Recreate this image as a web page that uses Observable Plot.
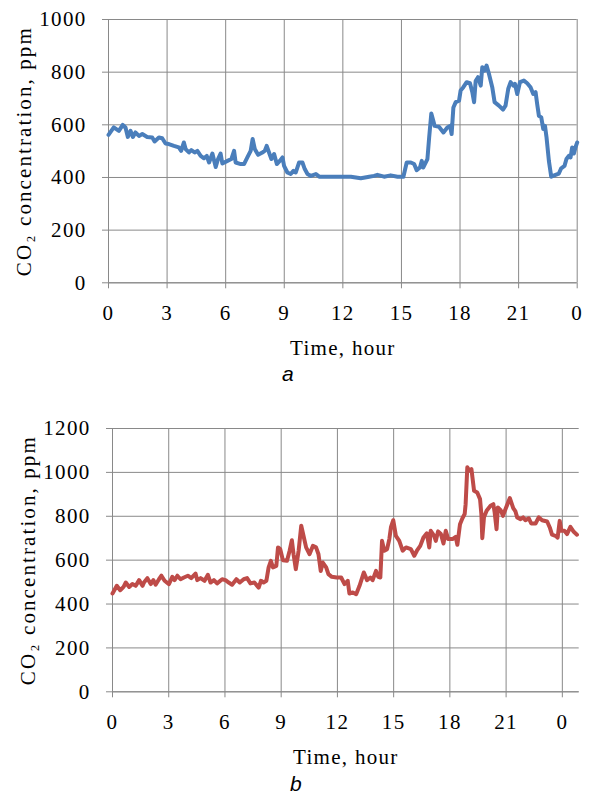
<!DOCTYPE html>
<html><head><meta charset="utf-8">
<script src="https://cdn.jsdelivr.net/npm/d3@7"></script>
<script src="https://cdn.jsdelivr.net/npm/@observablehq/plot@0.6"></script>
<style>
body{margin:0;background:#fff;}
#wrap{position:relative;width:590px;height:801px;overflow:hidden;background:#fff;}
.panel{position:absolute;left:0;}
.tag{position:absolute;font-family:"Liberation Sans",Arial,sans-serif;font-style:italic;font-size:21px;line-height:1;color:#000;}
</style></head><body>
<div id="wrap"></div>
<script>
// Panel a
const hoursA = [0,0.27,0.53,0.73,0.87,0.99,1.13,1.25,1.38,1.56,1.73,1.98,2.24,2.36,2.58,2.75,2.92,3.09,3.35,3.6,3.72,3.86,3.95,4.12,4.24,4.41,4.55,4.72,4.89,5.03,5.15,5.32,5.49,5.61,5.74,5.83,6.09,6.29,6.43,6.51,6.77,6.94,7.11,7.28,7.38,7.49,7.66,7.88,8.0,8.1,8.22,8.34,8.48,8.62,8.77,8.91,8.99,9.16,9.33,9.47,9.59,9.76,9.93,10.05,10.19,10.36,10.62,10.79,11.21,12.0,12.41,12.92,13.35,13.6,13.77,14.11,14.45,14.8,15.1,15.27,15.48,15.65,15.78,15.95,16.04,16.12,16.33,16.42,16.53,16.7,16.93,17.15,17.35,17.49,17.57,17.66,17.78,17.95,18.03,18.17,18.34,18.51,18.63,18.72,18.8,18.92,19.06,19.14,19.26,19.36,19.48,19.65,19.77,19.99,20.2,20.33,20.47,20.59,20.73,20.81,20.93,21.07,21.27,21.44,21.61,21.75,21.87,21.95,22.04,22.16,22.26,22.35,22.43,22.55,22.67,22.89,23.06,23.18,23.35,23.45,23.57,23.66,23.74,23.83,23.91,24.0];
const co2A = [562,590,577,600,590,554,577,554,571,558,565,554,552,537,552,549,529,527,520,514,501,533,508,495,504,495,501,482,473,482,457,491,440,470,491,453,463,470,501,457,451,451,476,501,546,508,486,495,501,520,495,470,489,451,463,476,444,419,413,425,419,457,457,432,413,406,413,403,403,403,403,397,403,406,410,403,408,403,403,457,457,451,428,438,463,438,470,552,643,596,592,571,590,596,565,666,686,692,730,743,762,758,724,686,766,781,749,819,806,825,794,743,686,673,658,673,737,762,749,756,717,762,768,758,743,717,724,679,634,628,584,596,552,463,403,410,415,435,444,470,482,476,514,491,514,533];

// Panel b
const hoursB = [0,0.23,0.41,0.59,0.71,0.89,1.06,1.24,1.42,1.6,1.68,1.86,2.04,2.18,2.30,2.48,2.61,2.78,3.01,3.19,3.31,3.46,3.63,3.81,4.02,4.2,4.43,4.52,4.7,4.91,5.09,5.23,5.41,5.58,5.85,6.03,6.2,6.38,6.61,6.79,7.0,7.18,7.36,7.57,7.8,7.92,8.06,8.21,8.33,8.45,8.56,8.74,8.83,8.95,9.09,9.31,9.45,9.57,9.66,9.78,9.93,10.07,10.19,10.33,10.51,10.69,10.86,10.99,11.11,11.22,11.4,11.52,11.7,11.96,12.2,12.38,12.55,12.64,12.82,13.0,13.18,13.41,13.58,13.76,13.88,14.06,14.18,14.29,14.38,14.5,14.65,14.77,14.86,14.98,15.12,15.3,15.48,15.66,15.92,16.1,16.24,16.42,16.59,16.77,16.9,16.98,17.16,17.25,17.37,17.52,17.66,17.78,17.91,18.14,18.31,18.4,18.54,18.67,18.79,18.84,18.93,19.04,19.15,19.29,19.46,19.61,19.68,19.73,19.82,19.96,20.17,20.32,20.39,20.49,20.56,20.71,20.83,20.97,21.2,21.38,21.5,21.59,21.77,21.91,22.03,22.21,22.34,22.57,22.74,22.92,23.19,23.33,23.45,23.63,23.75,23.86,23.95,24.11,24.25,24.43,24.61,24.78];
const co2B = [448,483,463,478,498,478,491,483,509,483,498,518,491,509,488,513,529,506,491,524,509,529,513,521,529,518,539,509,518,506,533,498,509,494,513,509,498,488,513,498,513,518,494,498,475,506,498,506,567,597,567,574,658,650,600,597,643,691,627,559,643,757,711,658,627,665,658,627,551,589,567,536,524,521,521,491,506,448,453,445,483,544,509,521,509,551,524,521,688,643,650,696,752,782,711,688,643,658,650,620,643,665,703,722,658,734,711,688,731,719,676,734,696,696,706,670,764,791,810,855,1023,1008,1015,916,908,878,810,700,795,825,848,855,817,741,840,828,802,833,883,837,822,795,787,795,782,791,767,767,795,782,776,749,716,711,703,779,734,734,719,752,729,716];

const xTicks = [0,3,6,9,12,15,18,21,24];
const yTicksA = [0,200,400,600,800,1000];
const yTicksB = [0,200,400,600,800,1000,1200];
const xLabel = "Time, hour";
const yLabel = "CO\u2082 concentration, ppm";
const panelTags = ["a","b"];

const GRID = "#898989";
const FONT = '"Liberation Serif","Times New Roman",serif';

function makePanel(hours, vals, cfg) {
  const data = hours.map((h, i) => ({h, v: vals[i]}));
  const svg = Plot.plot({
    width: 590, height: cfg.height,
    marginLeft: cfg.ml, marginRight: cfg.mr, marginTop: cfg.mt, marginBottom: cfg.mb,
    style: {fontFamily: FONT, fontSize: "21px", letterSpacing: "1.3px", color: "#000", background: "transparent", overflow: "visible"},
    x: {domain: cfg.xdom},
    y: {domain: cfg.ydom},
    marks: [
      Plot.gridX(xTicks, {stroke: GRID, strokeOpacity: 1, strokeWidth: 1}),
      Plot.gridY(cfg.yTicks, {stroke: GRID, strokeOpacity: 1, strokeWidth: 1}),
      Plot.ruleY([0], {stroke: GRID, strokeWidth: 1}),
      Plot.ruleX([0], {stroke: GRID, strokeWidth: 1}),
      Plot.axisX({ticks: xTicks, tickFormat: d => String(d % 24), tickSize: 6, tickPadding: 16, stroke: GRID,
        label: xLabel, labelAnchor: "center", labelOffset: 72, labelArrow: "none"}),
      Plot.axisY({ticks: cfg.yTicks, tickFormat: d => String(d), tickSize: 6, tickPadding: 16, stroke: GRID,
        label: yLabel, labelAnchor: "center", labelOffset: 92, labelArrow: "none"}),
      Plot.line(data, {x: "h", y: "v", stroke: cfg.color, strokeWidth: 4, strokeLinejoin: "round", strokeLinecap: "round"})
    ]
  });
  const yl = svg.querySelector('g[aria-label="y-axis label"]');
  if (yl) yl.style.letterSpacing = "2.1px";
  return svg;
}

const wrap = document.getElementById("wrap");
const p1 = makePanel(hoursA, co2A, {height: 362, ml: 108, mr: 13.3, mt: 19, mb: 79.7, xdom: [0, 24], ydom: [0, 1000], yTicks: yTicksA, color: "#4A7EBB"});
p1.classList.add("panel"); p1.style.top = "0px";
wrap.appendChild(p1);
const p2 = makePanel(hoursB, co2B, {height: 370, ml: 112, mr: 11.3, mt: 28, mb: 78.7, xdom: [0, 24.9], ydom: [0, 1200], yTicks: yTicksB, color: "#BE4B48"});
p2.classList.add("panel"); p2.style.top = "400px";
wrap.appendChild(p2);

const t1 = document.createElement("div"); t1.className = "tag"; t1.textContent = panelTags[0];
t1.style.left = "282px"; t1.style.top = "363px"; wrap.appendChild(t1);
const t2 = document.createElement("div"); t2.className = "tag"; t2.textContent = panelTags[1];
t2.style.left = "290px"; t2.style.top = "773px"; wrap.appendChild(t2);
</script>
</body></html>
